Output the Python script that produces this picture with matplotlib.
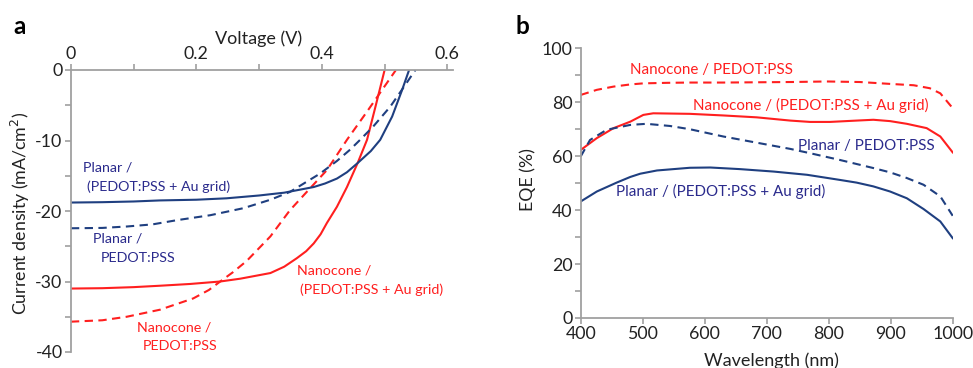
import matplotlib
matplotlib.use("Agg")
import matplotlib.pyplot as plt
from matplotlib.ticker import MultipleLocator

plt.rcParams['font.family'] = ['Lato', 'DejaVu Sans']

RED = '#ff1f1f'
BLUE = '#1f3f80'
BLUE_TXT = '#2a2a8c'
SPINE = '#a0a0a0'
TXT = '#222222'

# ---- Panel a: J-V curves ----
v_nc_au = [0, 0.05, 0.1, 0.142, 0.19, 0.238, 0.27, 0.3, 0.318, 0.34, 0.36, 0.375, 0.387, 0.398,
           0.408, 0.424, 0.44, 0.457, 0.472, 0.486, 0.5]
j_nc_au = [-31.0, -30.95, -30.8, -30.6, -30.35, -30.0, -29.6, -29.1, -28.8, -27.9, -26.7, -25.7, -24.6, -23.3,
           -21.7, -19.4, -16.6, -13.2, -9.9, -5.0, 0.0]

v_nc = [0, 0.05, 0.089, 0.142, 0.195, 0.22, 0.238, 0.258, 0.28, 0.318, 0.349, 0.381, 0.408, 0.44, 0.472, 0.518]
j_nc = [-35.7, -35.5, -35.0, -34.0, -32.4, -31.2, -30.0, -28.7, -27.1, -23.6, -19.9, -16.8, -14.2, -9.9, -5.9, 0.0]

v_pl_au = [0, 0.05, 0.1, 0.142, 0.2, 0.248, 0.3, 0.34, 0.387, 0.405, 0.424, 0.44, 0.457, 0.478, 0.493,
           0.512, 0.528, 0.539]
j_pl_au = [-18.8, -18.75, -18.65, -18.5, -18.4, -18.2, -17.8, -17.4, -16.6, -16.1, -15.4, -14.5, -13.2, -11.5,
           -9.9, -6.6, -2.8, 0.0]

v_pl = [0, 0.05, 0.089, 0.13, 0.169, 0.222, 0.275, 0.318, 0.349, 0.397, 0.424, 0.445, 0.461, 0.482,
        0.509, 0.533, 0.549]
j_pl = [-22.45, -22.4, -22.2, -21.9, -21.3, -20.6, -19.6, -18.4, -17.3, -14.7, -12.9, -11.3, -9.9, -8.0,
        -5.2, -2.1, 0.0]

# ---- Panel b: EQE ----
wl_nc = [400, 426, 453, 480, 501, 540, 576, 630, 684, 740, 797, 850, 899, 937, 963, 980, 1000]
eqe_nc = [82.7, 84.6, 85.8, 86.6, 87.0, 87.2, 87.3, 87.3, 87.4, 87.5, 87.7, 87.5, 86.8, 86.3, 85.2, 83.3, 77.8]

wl_nc_au = [400, 426, 453, 480, 501, 517, 576, 630, 684, 738, 770, 802, 845, 872, 899, 926, 958, 980, 1000]
eqe_nc_au = [62.3, 66.7, 70.4, 72.8, 75.3, 75.9, 75.7, 75.1, 74.4, 73.2, 72.7, 72.7, 73.2, 73.5, 73.0, 72.0,
             70.4, 67.3, 61.4]

wl_pl = [400, 415, 442, 480, 506, 544, 576, 630, 684, 738, 770, 818, 872, 899, 926, 953, 980, 1000]
eqe_pl = [59.9, 66.0, 69.8, 71.6, 72.0, 71.2, 70.0, 67.3, 65.0, 62.7, 61.1, 58.6, 55.6, 54.0, 51.9, 49.4,
          45.1, 37.9]

wl_pl_au = [400, 426, 458, 480, 496, 523, 576, 609, 657, 711, 765, 818, 845, 872, 899, 926, 953, 980, 1000]
eqe_pl_au = [43.2, 46.9, 50.2, 52.3, 53.5, 54.7, 55.7, 55.8, 55.2, 54.3, 53.1, 51.2, 50.2, 48.8, 46.9, 44.4,
             40.4, 35.8, 29.6]

W, H = 973, 368
fig = plt.figure(figsize=(W / 100, H / 100), dpi=100)


def px_axes(l, t, r, b):
    return fig.add_axes([l / W, 1 - b / H, (r - l) / W, (b - t) / H])


LW = 1.5
DASH = (0, (4.0, 2.6))

# Panel a
ax = px_axes(70.9, 70, 453, 352)
ax.plot(v_nc_au, j_nc_au, color=RED, lw=LW)
ax.plot(v_nc, j_nc, color=RED, lw=LW, linestyle=DASH)
ax.plot(v_pl_au, j_pl_au, color=BLUE, lw=LW)
ax.plot(v_pl, j_pl, color=BLUE, lw=LW, linestyle=DASH)
ax.set_xlim(0, 0.609)
ax.set_ylim(-40, 0)
ax.xaxis.tick_top()
ax.xaxis.set_major_locator(MultipleLocator(0.2))
ax.xaxis.set_minor_locator(MultipleLocator(0.1))
ax.yaxis.set_major_locator(MultipleLocator(10))
ax.yaxis.set_minor_locator(MultipleLocator(5))
ax.xaxis.set_major_formatter(plt.FuncFormatter(lambda v, p: '0' if abs(v) < 1e-9 else f'{v:.1f}'))
ax.yaxis.set_major_formatter(plt.FuncFormatter(lambda v, p: f'{v:.0f}'))
for s in ['right', 'bottom']:
    ax.spines[s].set_visible(False)
for s in ['left', 'top']:
    ax.spines[s].set_color(SPINE)
    ax.spines[s].set_linewidth(1.3)
ax.tick_params(which='both', direction='out', color=SPINE, width=1.2, labelsize=12.8, labelcolor=TXT)
ax.tick_params(which='major', length=4, pad=2)
ax.tick_params(which='minor', length=4)
ax.patch.set_alpha(0)


def atext(axx, x, y, s, color, ha='left', size=10.3):
    axx.text(x, y, s, color=color, fontsize=size, ha=ha, va='center')


atext(ax, 0.0193, -13.9, 'Planar /', BLUE_TXT)
atext(ax, 0.0257, -16.6, '(PEDOT:PSS + Au grid)', BLUE_TXT)
atext(ax, 0.0352, -23.97, 'Planar /', BLUE_TXT)
atext(ax, 0.048, -26.7, 'PEDOT:PSS', BLUE_TXT)
atext(ax, 0.3606, -28.5, 'Nanocone /', RED)
atext(ax, 0.3654, -31.2, '(PEDOT:PSS + Au grid)', RED)
atext(ax, 0.1054, -36.5, 'Nanocone /', RED)
atext(ax, 0.115, -39.2, 'PEDOT:PSS', RED)

fig.text(259 / W, 1 - 39 / H, 'Voltage (V)', ha='center', va='center', fontsize=13, color=TXT)
fig.text(20 / W, 1 - 213 / H, 'Current density (mA/cm$^2$)', ha='center', va='center',
         rotation=90, fontsize=12.8, color=TXT)
fig.text(20 / W, 1 - 26 / H, 'a', ha='center', va='center', fontsize=17.5, fontweight='bold', color='black')

# Panel b
bx = px_axes(580.7, 48.3, 952.7, 318)
bx.plot(wl_nc, eqe_nc, color=RED, lw=LW, linestyle=DASH)
bx.plot(wl_nc_au, eqe_nc_au, color=RED, lw=LW)
bx.plot(wl_pl, eqe_pl, color=BLUE, lw=LW, linestyle=DASH)
bx.plot(wl_pl_au, eqe_pl_au, color=BLUE, lw=LW)
bx.set_xlim(400, 1000)
bx.set_ylim(0, 100)
bx.xaxis.set_major_locator(MultipleLocator(100))
bx.yaxis.set_major_locator(MultipleLocator(20))
bx.yaxis.set_minor_locator(MultipleLocator(10))
for s in ['right', 'top']:
    bx.spines[s].set_visible(False)
for s in ['left', 'bottom']:
    bx.spines[s].set_color(SPINE)
    bx.spines[s].set_linewidth(1.3)
bx.tick_params(which='both', direction='out', color=SPINE, width=1.2, labelsize=12.8, labelcolor=TXT)
bx.tick_params(which='major', length=4, pad=2)
bx.tick_params(which='minor', length=4)
bx.patch.set_alpha(0)

atext(bx, 611, 92.0, 'Nanocone / PEDOT:PSS', RED, ha='center', size=10.9)
atext(bx, 771, 78.7, 'Nanocone / (PEDOT:PSS + Au grid)', RED, ha='center', size=10.9)
atext(bx, 861, 63.9, 'Planar / PEDOT:PSS', BLUE_TXT, ha='center', size=10.9)
atext(bx, 625, 47.1, 'Planar / (PEDOT:PSS + Au grid)', BLUE_TXT, ha='center', size=10.9)

fig.text(528 / W, 1 - 180 / H, 'EQE (%)', ha='center', va='center', rotation=90, fontsize=12.8, color=TXT)
fig.text(771.7 / W, 1 - 361 / H, 'Wavelength (nm)', ha='center', va='center', fontsize=13, color=TXT)
fig.text(522 / W, 1 - 26 / H, 'b', ha='center', va='center', fontsize=17.5, fontweight='bold', color='black')

fig.savefig('out.png', dpi=100)
